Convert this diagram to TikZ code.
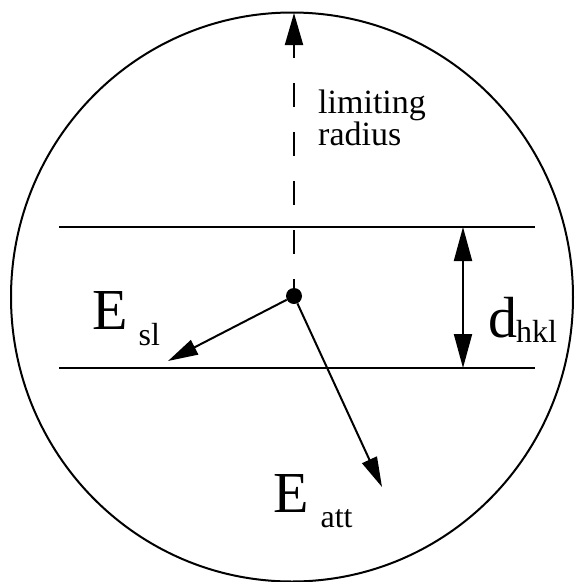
\documentclass[tikz,border=0pt]{standalone}
\usepackage{fontspec}
\setmainfont{Liberation Serif}
\usetikzlibrary{arrows.meta, positioning}

% Large symbol with a lowered subscript: #1 symbol, #2 subscript, #3 gap, #4 drop
\newcommand{\vecsym}[4]{{\fontsize{58}{58}\selectfont #1}\hspace{#3}\raisebox{-#4}{\fontsize{32}{32}\selectfont #2}}

\begin{document}
\begin{tikzpicture}[
    x=1pt, y=-1pt,
    % Limiting sphere
    sphere/.style={draw, line width=2pt},
    % Lattice planes
    plane/.style={draw, line width=2.8pt},
    % Vectors leaving the site
    vec/.style={draw, line width=2pt, -{Triangle[length=30pt, width=16pt]}},
    % Dashed limiting radius
    limitline/.style={draw, line width=2pt, dash pattern=on 24pt off 25pt, dash phase=15pt,
        -{Triangle[length=32pt, width=18pt]}},
    % Plane spacing
    dimarrow/.style={draw, line width=2pt,
        {Triangle[length=34pt, width=18pt]}-{Triangle[length=34pt, width=18pt]}},
    % Labels
    lbl/.style={inner sep=0pt, anchor=base west}
]
\useasboundingbox (0,0) rectangle (575,582);

% --- SPHERE ---
\coordinate (Centre) at (292,297);
\draw[sphere] (Centre) ellipse [x radius=281pt, y radius=284.5pt];

% --- PLANES ---
\coordinate (TopL) at (59,227);
\coordinate (TopR) at (535,227);
\coordinate (BotL) at (59,368);
\coordinate (BotR) at (535,368);
\draw[plane] (TopL) -- (TopR);
\draw[plane] (BotL) -- (BotR);

% --- SITE AND VECTORS ---
\node[circle, fill, inner sep=0pt, minimum size=16pt] (Site) at (294,296) {};
\coordinate (RadiusTip) at (294,13);
\coordinate (SlTip) at (168,361);
\coordinate (AttTip) at (382,487);
\draw[limitline] (Site.north) -- (RadiusTip);
\draw[vec] (Site) -- (SlTip);
\draw[vec] (Site) -- (AttTip);

% --- SPACING ---
\coordinate (Dim) at (463,0);
\draw[dimarrow] (Dim |- TopL) -- (Dim |- BotL);

% --- LABELS ---
\node[lbl, anchor=north west, align=left, font=\fontsize{34}{27}\selectfont] (RadiusLabel) at (318,90) {limiting\\radius};
\node[lbl] (EslLabel) at (92,329) {\vecsym{E}{sl}{11pt}{16pt}};
\node[lbl] (EattLabel) at (273,512) {\vecsym{E}{att}{12pt}{15pt}};
\node[lbl] (DLabel) at (488,337) {\vecsym{d}{hkl}{-1pt}{5pt}};

\end{tikzpicture}
\end{document}
